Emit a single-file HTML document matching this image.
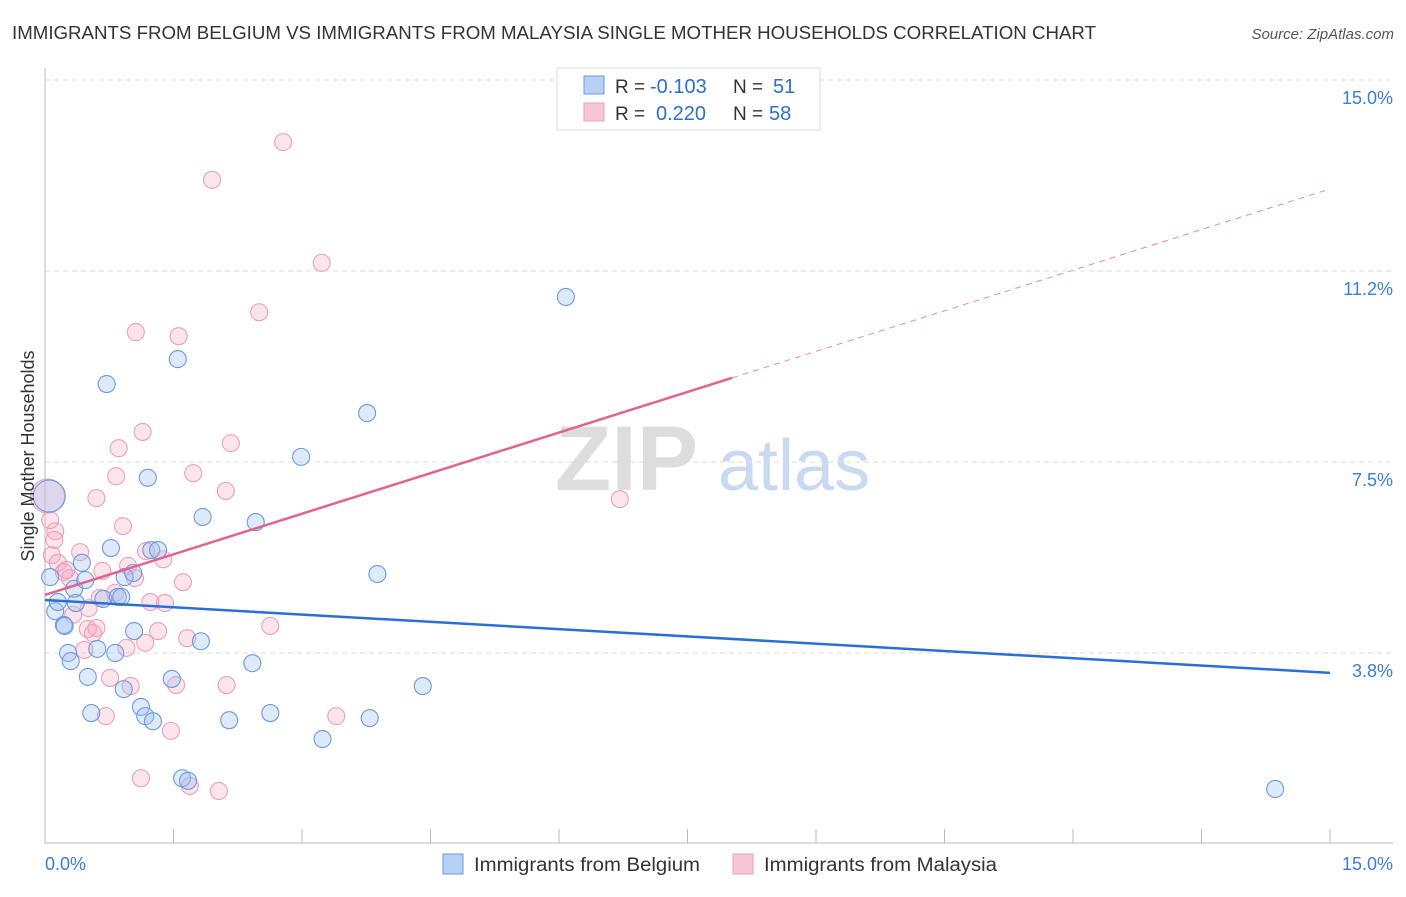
<!DOCTYPE html>
<html><head><meta charset="utf-8"><style>
body{margin:0;background:#fff;font-family:"Liberation Sans",sans-serif}
svg text{font-family:"Liberation Sans",sans-serif}
</style></head><body>
<svg id="chart" width="1406" height="892" xmlns="http://www.w3.org/2000/svg">
<text x="12" y="39" font-size="18" fill="#333" textLength="1084" lengthAdjust="spacingAndGlyphs">IMMIGRANTS FROM BELGIUM VS IMMIGRANTS FROM MALAYSIA SINGLE MOTHER HOUSEHOLDS CORRELATION CHART</text>
<text x="1394" y="39" font-size="15" fill="#555" text-anchor="end" font-style="italic">Source: ZipAtlas.com</text>
<g>
<text x="555" y="490" font-size="92" fill="#ddd" font-family="Liberation Serif" font-weight="bold">ZIP</text>
<text x="718" y="490" font-size="72" fill="#c9d9f0">atlas</text>
</g>
<g id="grid"></g>
<g id="axes"></g>
<g id="pts"></g>
<g id="trends"></g>
<text transform="translate(34,456) rotate(-90)" font-size="18" fill="#333" text-anchor="middle">Single Mother Households</text>
<text x="45" y="870" font-size="18" fill="#3b7dd8">0.0%</text>
<text x="1393" y="870" font-size="18" fill="#3b7dd8" text-anchor="end">15.0%</text>
<g>
<rect x="557" y="68" width="263" height="62" fill="#fff" stroke="#ddd"/>
<rect x="584" y="76" width="20" height="18" fill="#b7d0f5" stroke="#6a9be0"/>
<rect x="584" y="103" width="20" height="18" fill="#f9c6d6" stroke="#eba0ba"/>
<text x="615" y="93" font-size="19" fill="#333">R =</text>
<text x="650" y="93" font-size="20" fill="#2a6fd6">-0.103</text>
<text x="733" y="93" font-size="19" fill="#333">N =</text>
<text x="773" y="93" font-size="20" fill="#2a6fd6">51</text>
<text x="615" y="120" font-size="19" fill="#333">R =</text>
<text x="656" y="120" font-size="20" fill="#2a6fd6">0.220</text>
<text x="733" y="120" font-size="19" fill="#333">N =</text>
<text x="769" y="120" font-size="20" fill="#2a6fd6">58</text>
</g>
<g>
<rect x="443" y="854" width="20" height="20" fill="#b7d0f5" stroke="#6a9be0"/>
<text x="474" y="871" font-size="19" fill="#333" textLength="226" lengthAdjust="spacingAndGlyphs">Immigrants from Belgium</text>
<rect x="733" y="854" width="20" height="20" fill="#f9c6d6" stroke="#eba0ba"/>
<text x="764" y="871" font-size="19" fill="#333" textLength="233" lengthAdjust="spacingAndGlyphs">Immigrants from Malaysia</text>
</g>
</svg>
<script>
const yTicks=[15,11.25,7.5,3.75];
const yTickLabels=["15.0%","11.2%","7.5%","3.8%"];
const belgiumX=[0.05,0.06,0.12,0.15,0.22,0.27,0.30,0.34,0.36,0.43,0.47,0.50,0.54,0.61,0.68,0.72,0.77,0.82,0.85,0.89,0.92,0.93,1.03,1.04,1.12,1.17,1.20,1.24,1.26,1.32,1.48,1.55,1.60,1.67,1.82,1.84,2.15,2.42,2.46,2.63,2.99,3.24,3.76,3.79,3.88,4.41,6.08,14.36,0.23];
const belgiumY=[6.83,5.24,4.57,4.75,4.30,3.75,3.59,5.01,4.73,5.52,5.18,3.28,2.57,3.83,4.81,9.03,5.81,3.75,4.85,4.85,3.04,5.24,5.32,4.18,2.69,2.51,7.19,5.77,2.41,5.77,3.24,9.52,1.29,1.24,3.98,6.42,2.43,3.55,6.32,2.57,7.60,2.06,8.46,2.47,5.30,3.10,10.74,1.08,4.28];
const malaysiaX=[2.78,1.95,3.23,2.50,1.06,1.56,1.14,2.17,0.86,1.73,0.83,2.11,0.60,6.71,0.91,0.12,0.06,0.08,0.41,0.15,1.18,1.38,0.22,0.29,0.67,0.97,1.61,1.05,0.33,0.51,0.64,0.82,1.23,1.40,0.50,0.56,0.46,1.32,1.66,2.63,0.95,1.17,0.76,1.00,1.53,2.12,0.71,3.40,1.47,1.12,1.69,2.03,0.25,0.11,0.60,0.03];
const malaysiaY=[13.78,13.04,11.41,10.44,10.05,9.97,8.09,7.87,7.77,7.28,7.22,6.93,6.79,6.77,6.24,6.14,6.36,5.67,5.73,5.52,5.75,5.59,5.34,5.22,5.36,5.46,5.14,5.22,4.50,4.63,4.83,4.93,4.75,4.73,4.22,4.14,3.81,4.18,4.04,4.28,3.85,3.95,3.26,3.10,3.12,3.12,2.51,2.51,2.22,1.29,1.14,1.04,5.38,5.97,4.24,6.83];
const belgiumTrend=[4.79,3.36];
const malaysiaTrend=[4.89,12.86];
const malaysiaSolidEnd=8.02;

const NS="http://www.w3.org/2000/svg";
const X0=45,X1=1330,Y15=80,PXPER=50.93;
function sx(v){return X0+(X1-X0)*v/15;}
function sy(v){return Y15+(15-v)*PXPER;}
function mk(tag,attrs,parent){const e=document.createElementNS(NS,tag);for(const k in attrs)e.setAttribute(k,attrs[k]);parent.appendChild(e);return e;}
const grid=document.getElementById('grid'),axes=document.getElementById('axes');
yTicks.forEach((t,i)=>{
 const l=mk('line',{x1:45,x2:1393,y1:sy(t),y2:sy(t),stroke:'#ddd','stroke-dasharray':'5,4'},grid);
 
 
 const tx=mk('text',{x:1393,y:sy(t)+24,'font-size':18,fill:'#3b7dd8','text-anchor':'end'},grid);
 tx.textContent=yTickLabels[i];
 
 
});
const ax=mk('line',{x1:45,x2:1393,y1:843,y2:843,stroke:'#bbb'},axes);


const ay=mk('line',{x1:45,x2:45,y1:68,y2:843,stroke:'#bbb'},axes);


for(let i=0;i<=10;i++){
 const t=mk('line',{x1:sx(i*1.5),x2:sx(i*1.5),y1:829,y2:843,stroke:'#bbb'},axes);
 
 
}
const pts=document.getElementById('pts');
malaysiaX.forEach((x,i)=>{
 const big=(i===malaysiaX.length-1);
 const c=mk('circle',{cx:sx(x),cy:sy(malaysiaY[i]),r:big?17:8.5,fill:'rgba(244,165,192,0.3)',stroke:'#eaa0b9','stroke-width':1.1},pts);
 
 
});
belgiumX.forEach((x,i)=>{
 const c=mk('circle',{cx:sx(x),cy:sy(belgiumY[i]),r:i===0?16:8.5,fill:'rgba(160,192,240,0.35)',stroke:'#6a9be0','stroke-width':1.1},pts);
 
 
});
const tr=document.getElementById('trends');
const bl=mk('line',{x1:sx(0),y1:sy(belgiumTrend[0]),x2:sx(15),y2:sy(belgiumTrend[1]),stroke:'#2a6fd6','stroke-width':2.5},tr);


const my=v=>malaysiaTrend[0]+(malaysiaTrend[1]-malaysiaTrend[0])*v/15;
const ml=mk('line',{x1:sx(0),y1:sy(my(0)),x2:sx(malaysiaSolidEnd),y2:sy(my(malaysiaSolidEnd)),stroke:'#e2638f','stroke-width':2.5},tr);


const md=mk('line',{x1:sx(malaysiaSolidEnd),y1:sy(my(malaysiaSolidEnd)),x2:sx(15),y2:sy(my(15)),stroke:'#e88aa9','stroke-width':1,'stroke-dasharray':'6,5'},tr);


</script>
</body></html>
